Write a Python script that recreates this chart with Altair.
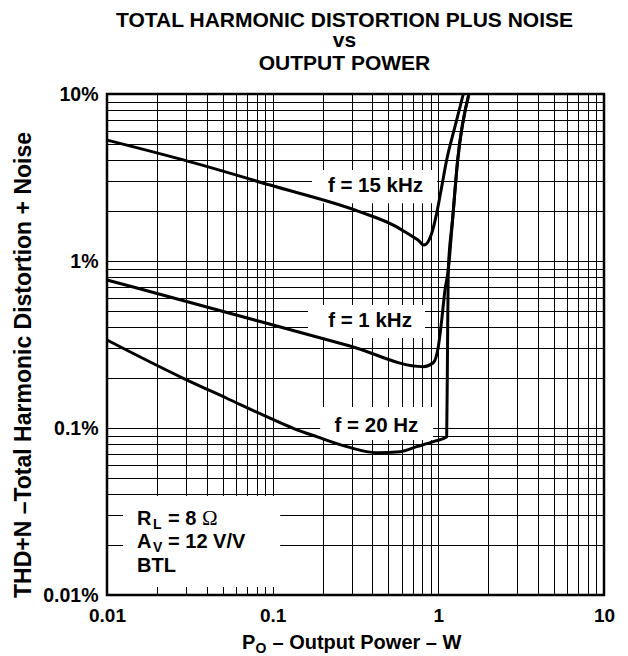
import altair as alt
import pandas as pd

FONT = "Liberation Sans"

# ---------------- data ----------------
# P_O in W, THD+N in %
f15k_x = [0.01, 0.0289, 0.0964, 0.337, 0.535, 0.675, 0.754, 0.819, 0.866, 0.912, 0.977, 1.048, 1.123, 1.26, 1.415]
f15k_y = [5.30, 4.03, 2.85, 1.97, 1.64, 1.43, 1.336, 1.247, 1.30, 1.465, 1.93, 2.786, 4.03, 6.37, 10.0]

f1k_x = [0.01, 0.092, 0.293, 0.811, 0.932, 1.0, 1.048, 1.097, 1.148, 1.218, 1.309, 1.53]
f1k_y = [0.770, 0.4236, 0.31, 0.233, 0.246, 0.307, 0.443, 0.67, 0.883, 1.76, 4.03, 10.0]

f20_x = [0.01, 0.0289, 0.0528, 0.092, 0.1332, 0.1844, 0.28, 0.4246, 0.587, 0.74, 0.932, 1.123, 1.136, 1.148, 1.218, 1.309, 1.53]
f20_y = [0.3365, 0.1984, 0.1507, 0.117, 0.0996, 0.0887, 0.0773, 0.0711, 0.0721, 0.0773, 0.0828, 0.0887, 0.293, 0.883, 1.76, 4.03, 10.0]

series_names = ["15 kHz", "1 kHz", "20 Hz"]

# curve labels (with white backing boxes)
label_text = ["f = 15 kHz", "f = 1 kHz", "f = 20 Hz"]
label_x = [0.4175, 0.387, 0.423]
label_y = [2.59, 0.403, 0.0946]
box_x0 = [0.1728, 0.1634, 0.1935]
box_x1 = [0.982, 0.831, 0.929]
box_y0 = [3.51, 0.545, 0.1337]
box_y1 = [2.22, 0.346, 0.0847]

# conditions box
cond_box_x = [0.0125, 0.111]
cond_box_y = [0.0392, 0.01117]
cond_x = 0.01518
cond_y = [0.02624, 0.019, 0.01374]

grid_vals = [0.01, 0.02, 0.03, 0.04, 0.05, 0.06, 0.07, 0.08, 0.09,
             0.1, 0.2, 0.3, 0.4, 0.5, 0.6, 0.7, 0.8, 0.9,
             1, 2, 3, 4, 5, 6, 7, 8, 9, 10]
decade_labels = ["0.01", "0.1", "1", "10"]

title_lines = ["TOTAL HARMONIC DISTORTION PLUS NOISE", "vs", "OUTPUT POWER"]
y_title = "THD+N \u2013Total Harmonic Distortion + Noise"

# ---------------- tables ----------------
rows = []
for name, xs_, ys_ in zip(series_names, [f15k_x, f1k_x, f20_x], [f15k_y, f1k_y, f20_y]):
    for i, (a, b) in enumerate(zip(xs_, ys_)):
        rows.append({"series": name, "idx": i, "x": a, "y": b})
curves = pd.DataFrame(rows)

boxes = pd.DataFrame({
    "x": box_x0 + [cond_box_x[0]],
    "xe": box_x1 + [cond_box_x[1]],
    "y": box_y0 + [cond_box_y[0]],
    "ye": box_y1 + [cond_box_y[1]],
})
labels = pd.DataFrame({"x": label_x, "y": label_y, "label": label_text})

# ---------------- scales / axes ----------------
xscale = alt.Scale(type="log", domain=[0.01, 10], nice=False)
yscale = alt.Scale(type="log", domain=[0.01, 10], nice=False)
lab_list = "[" + ",".join("'" + s + "'" for s in decade_labels) + "]"

common_axis = dict(values=grid_vals, format="~g", title=None, grid=True, ticks=False,
                   domain=False, labelFont=FONT, labelFontWeight="bold",
                   labelColor="black", gridColor="black", gridOpacity=1, gridWidth=1,
                   labelOverlap=False, labelBound=False, labelFlush=False)
xaxis = alt.Axis(labelExpr=f"indexof({lab_list}, datum.label) >= 0 ? datum.label : ''",
                 labelPadding=11, labelFontSize=19, **common_axis)
yaxis = alt.Axis(labelExpr=f"indexof({lab_list}, datum.label) >= 0 ? datum.label + '%' : ''",
                 labelPadding=9, labelFontSize=19.5, **common_axis)

X = alt.X("x:Q", scale=xscale, axis=xaxis)
Y = alt.Y("y:Q", scale=yscale, axis=yaxis)

box_layer = alt.Chart(boxes).mark_rect(fill="white", strokeWidth=0).encode(
    x=X, x2="xe:Q", y=Y, y2="ye:Q")

line_layer = alt.Chart(curves).mark_line(color="black", strokeWidth=3, strokeJoin="round",
                                         interpolate="monotone").encode(
    x=X, y=Y, detail="series:N", order="idx:Q")

label_layer = alt.Chart(labels).mark_text(
    font=FONT, fontSize=20.5, fontWeight="bold", color="black", align="center", baseline="alphabetic"
).encode(x=X, y=Y, text="label:N")


def data_text(text, yv, dx=0, dy=0, size=20, font=FONT, weight="bold"):
    df = pd.DataFrame({"x": [cond_x], "y": [yv], "t": [text]})
    return alt.Chart(df).mark_text(font=font, fontSize=size, fontWeight=weight, color="black",
                                   align="left", baseline="alphabetic", dx=dx, dy=dy).encode(
        x=X, y=Y, text="t:N")


cond_layers = [
    data_text("R", cond_y[0]),
    data_text("L", cond_y[0], dx=16, dy=4, size=14),
    data_text("= 8", cond_y[0], dx=31),
    data_text("\u03a9", cond_y[0], dx=65, size=21, font="Liberation Serif", weight="normal"),
    data_text("A", cond_y[1]),
    data_text("V", cond_y[1], dx=16, dy=4, size=14),
    data_text("= 12 V/V", cond_y[1], dx=31),
    data_text("BTL", cond_y[2]),
]


def px_text(text, px, py, size, align="center", angle=0, weight="bold"):
    df = pd.DataFrame({"t": [text]})
    kw = dict(font=FONT, fontSize=size, fontWeight=weight, color="black", align=align,
              baseline="alphabetic")
    if angle:
        kw["angle"] = angle
    return alt.Chart(df).mark_text(**kw).encode(x=alt.value(px), y=alt.value(py), text="t:N")


frame_layers = [
    px_text(title_lines[0], 237.5, -67, 21),
    px_text(title_lines[1], 237.5, -47, 21),
    px_text(title_lines[2], 237.5, -24, 21),
    px_text("P", 135, 555, 20, align="left"),
    px_text("O", 148.5, 559, 14, align="left"),
    px_text("\u2013 Output Power \u2013 W", 165.5, 555, 20, align="left"),
    px_text(y_title, -76, 271, 23, angle=270),
]

chart = alt.layer(box_layer, line_layer, label_layer, *cond_layers, *frame_layers).properties(
    width=497, height=501,
    autosize=alt.AutoSizeParams(type="none"),
    padding={"left": 99, "top": 86, "right": 16, "bottom": 62},
    background="white",
).configure_view(stroke="black", strokeWidth=2.5)

chart.save("out.html", embed_options={"renderer": "svg", "actions": False})
